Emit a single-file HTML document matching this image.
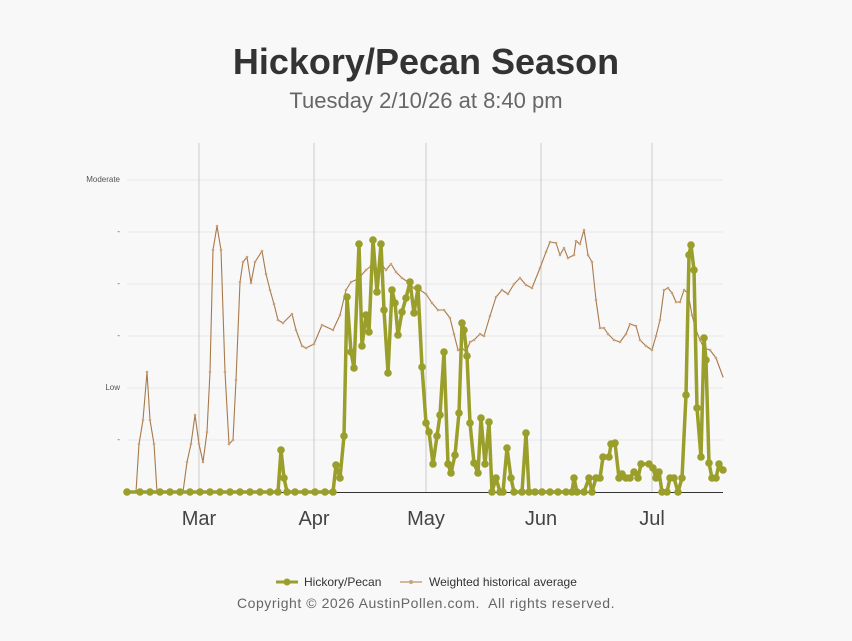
<!DOCTYPE html>
<html><head><meta charset="utf-8"><style>
body{margin:0;background:#f8f8f8;font-family:"Liberation Sans",sans-serif;}
</style></head><body>
<svg width="852" height="636" xmlns="http://www.w3.org/2000/svg" font-family="Liberation Sans, sans-serif">
<defs>
<marker id="gd" markerUnits="userSpaceOnUse" markerWidth="10" markerHeight="10" refX="5" refY="5"><circle cx="5" cy="5" r="3.8" fill="#9a9e2a"/></marker>
<marker id="bd" markerUnits="userSpaceOnUse" markerWidth="6" markerHeight="6" refX="3" refY="3"><circle cx="3" cy="3" r="1.3" fill="#c9a27a"/></marker>
</defs>
<rect width="852" height="636" fill="#f8f8f8"/>
<text x="426" y="74" text-anchor="middle" font-size="36" font-weight="bold" fill="#333">Hickory/Pecan Season</text>
<text x="426" y="108" text-anchor="middle" font-size="22" fill="#666">Tuesday 2/10/26 at 8:40 pm</text>
<g stroke="#e8e8e8" stroke-width="1">
<line x1="127" x2="723" y1="180" y2="180"/><line x1="127" x2="723" y1="232" y2="232"/><line x1="127" x2="723" y1="284" y2="284"/><line x1="127" x2="723" y1="336" y2="336"/><line x1="127" x2="723" y1="388" y2="388"/><line x1="127" x2="723" y1="440" y2="440"/>
</g>
<g stroke="#ccc" stroke-width="1">
<line x1="199" x2="199" y1="143" y2="492"/><line x1="314" x2="314" y1="143" y2="492"/><line x1="426" x2="426" y1="143" y2="492"/><line x1="541" x2="541" y1="143" y2="492"/><line x1="652" x2="652" y1="143" y2="492"/>
</g>
<line x1="127" x2="723" y1="492.5" y2="492.5" stroke="#333" stroke-width="1"/>
<g font-size="8" fill="#555" text-anchor="end">
<text x="120" y="182">Moderate</text><text x="120" y="234">-</text><text x="120" y="286">-</text><text x="120" y="338">-</text><text x="120" y="390">Low</text><text x="120" y="442">-</text>
</g>
<g font-size="20" fill="#444" text-anchor="middle">
<text x="199" y="525">Mar</text><text x="314" y="525">Apr</text><text x="426" y="525">May</text><text x="541" y="525">Jun</text><text x="652" y="525">Jul</text>
</g>
<polyline fill="none" stroke="#a87a4a" stroke-width="1.1" stroke-linejoin="round" stroke-linecap="round" marker-mid="url(#bd)" points="127,492 136,492 139,444 143,420 147,372 150,420 154,444 157,492 183,492 187,462 191,444 195,415 199,444 203,462 207,432 210,372 213,250 217,226 221,250 225,372 229,444 233,440 236,380 240,282 243,262 247,257 251,283 255,262 262,251 266,274 270,290 274,304 278,320 283,323 292,314 296,330 302,346 306,348 314,344 322,325 333,330 340,315 346,290 351,282 358,279 366,270 371,266 374,262 378,272 382,265 386,270 391,264 396,272 402,278 408,282 414,288 420,290 426,294 432,303 438,310 444,310 450,318 454,334 458,350 462,348 466,352 470,342 474,340 480,334 484,336 490,316 496,297 502,290 508,294 514,284 520,278 526,285 532,288 540,268 546,252 550,242 556,243 560,255 564,248 568,258 574,255 576,241 580,244 584,230 588,255 592,262 596,300 600,328 604,328 608,334 614,340 620,342 626,334 630,324 636,326 640,340 646,346 652,350 656,336 660,320 664,290 668,288 672,293 676,302 680,302 684,290 688,293 692,315 696,330 700,340 704,348 710,350 716,358 723,377"/>
<polyline fill="none" stroke="#9a9e2a" stroke-width="3.5" stroke-linejoin="round" marker-start="url(#gd)" marker-mid="url(#gd)" marker-end="url(#gd)" points="127,492 140,492 150,492 160,492 170,492 180,492 190,492 200,492 210,492 220,492 230,492 240,492 250,492 260,492 270,492 278,492 281,450 284,478 287,492 295,492 305,492 315,492 325,492 333,492 336,465 340,478 344,436 347,297 351,352 354,368 359,244 362,346 366,315 369,332 373,240 377,292 381,244 384,310 388,373 392,290 395,303 398,335 402,312 406,298 410,282 414,313 418,288 422,367 426,423 429,432 433,464 437,436 440,415 444,352 448,464 451,473 455,455 459,413 462,323 464,330 467,356 470,423 474,463 478,473 481,418 485,464 489,422 492,492 496,478 500,492 503,492 507,448 511,478 514,492 522,492 526,433 529,492 535,492 542,492 550,492 558,492 566,492 572,492 574,478 577,492 584,492 589,478 592,492 596,478 600,478 603,457 609,457 611,444 615,443 619,478 622,474 626,478 630,478 634,472 638,478 641,464 649,464 653,468 656,478 659,472 662,492 667,492 670,478 674,478 678,492 682,478 686,395 689,255 691,245 694,270 697,408 701,457 704,338 706,360 709,463 712,478 716,478 719,464 723,470"/>
<line x1="276" x2="298" y1="582" y2="582" stroke="#9a9e2a" stroke-width="3"/><circle cx="287" cy="582" r="3.5" fill="#9a9e2a"/>
<text x="304" y="586" font-size="12" fill="#333">Hickory/Pecan</text>
<line x1="400" x2="422" y1="582" y2="582" stroke="#a87a4a" stroke-width="1"/><circle cx="411" cy="582" r="2" fill="#c9a27a"/>
<text x="429" y="586" font-size="12" fill="#333">Weighted historical average</text>
<text x="426" y="608" text-anchor="middle" font-size="14" fill="#666" letter-spacing="0.55" xml:space="preserve">Copyright © 2026 AustinPollen.com.  All rights reserved.</text>
</svg>
</body></html>
